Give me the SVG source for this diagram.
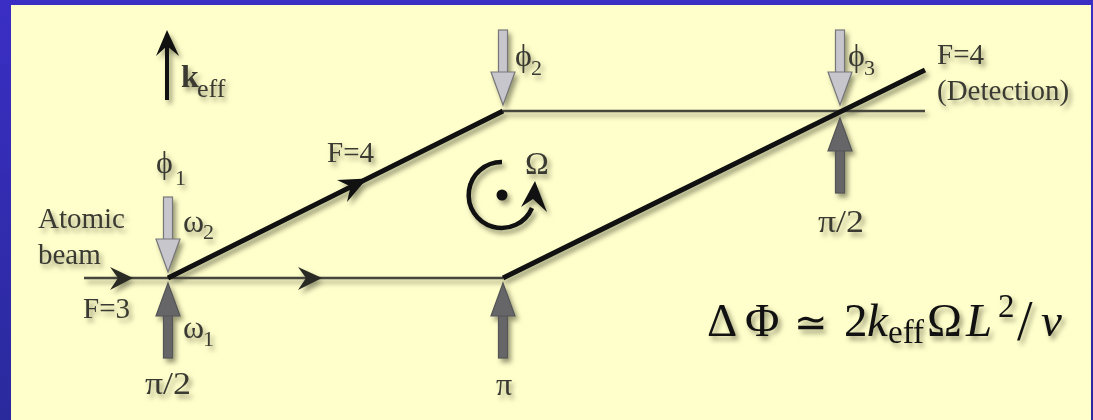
<svg xmlns="http://www.w3.org/2000/svg" width="1093" height="420" viewBox="0 0 1093 420">
<defs>
<linearGradient id="blue" x1="0" y1="0" x2="0" y2="1"><stop offset="0" stop-color="#3a2ec4"/><stop offset="1" stop-color="#2a2a9c"/></linearGradient>
<filter id="sh" x="-5%" y="-5%" width="110%" height="110%" color-interpolation-filters="sRGB">
<feGaussianBlur in="SourceGraphic" stdDeviation="0.5" result="soft"/>
<feDropShadow in="soft" dx="3" dy="4" stdDeviation="2.6" flood-color="#55553a" flood-opacity="0.6"/>
</filter>
<g id="down"><rect x="-4.5" y="-75" width="9" height="43" class="lf"/><polygon points="-12,-33 12,-33 0,0" class="lf"/></g>
<g id="up"><rect x="-4.5" y="32" width="9" height="43" class="df"/><polygon points="-12,33 12,33 0,0" class="df"/></g>
</defs>
<style>
text{font-family:"Liberation Serif","Times New Roman",serif;fill:#3a3a32;font-size:29px}
.gr{font-size:32px}
.sub{font-size:22px}
.eq{fill:#111;font-size:47px}
.eqs{fill:#111;font-size:33px}
.i{font-style:italic}
.lf{fill:#c6c6cc;stroke:#77777a;stroke-width:1.2}
.df{fill:#666668;stroke:#555557;stroke-width:1.2}
.thin{stroke:#46463e;stroke-width:2.6;fill:none}
.thick{stroke:#111;stroke-width:5;fill:none}
.hd{fill:#2a2a24}
.hk{fill:#111}
</style>
<rect width="1093" height="420" fill="url(#blue)"/>
<rect x="11" y="5" width="1080" height="415" fill="#ffffcc"/>
<g filter="url(#sh)">
<g id="connectors">
<path class="thin" d="M84 278H503"/>
<polygon class="hd" points="133,278 110,267 118,278 110,290"/>
<polygon class="hd" points="322,278 298,267 306,278 298,290"/>
<path class="thin" d="M503 111H925"/>
<path class="thick" d="M168 278L503 111"/>
<polygon class="hk" points="367,178.500 337,180 350.700,186.600 347,202"/>
<path class="thick" d="M503 278L925 70"/>
</g>
<g id="keff"><path d="M167 100V40" stroke="#111" stroke-width="4" fill="none"/><polygon class="hk" points="167,30 156,56 167,46 179,56"/>
<text x="181" y="87" font-weight="bold" style="font-size:32px">k</text><text x="197" y="97" style="font-size:26px">eff</text></g>
<g id="pulse-1-down"><use href="#down" x="168" y="272"/><text x="156" y="173" class="gr">ϕ</text><text x="175" y="185" class="sub">1</text><text x="183" y="232" class="gr">ω</text><text x="203" y="239" class="sub">2</text></g>
<g id="pulse-1-up"><use href="#up" x="168" y="283"/><text x="183" y="338" class="gr">ω</text><text x="203" y="346" class="sub">1</text><text x="145" y="394" class="gr" textLength="46" lengthAdjust="spacingAndGlyphs">π/2</text></g>
<g id="pulse-2-down"><use href="#down" x="503" y="105"/><text x="515" y="66" class="gr">ϕ</text><text x="531" y="75" class="sub">2</text></g>
<g id="pulse-2-up"><use href="#up" x="503" y="283"/><text x="504" y="395" text-anchor="middle" class="gr">π</text></g>
<g id="pulse-3-down"><use href="#down" x="840" y="105"/><text x="848" y="66" class="gr">ϕ</text><text x="864" y="75" class="sub">3</text></g>
<g id="pulse-3-up"><use href="#up" x="840" y="118"/><text x="818" y="232" class="gr" textLength="46" lengthAdjust="spacingAndGlyphs">π/2</text></g>
<g id="atomic-beam"><text x="38" y="228">Atomic</text><text x="38" y="264">beam</text><text x="83" y="318">F=3</text></g>
<g id="upper-path"><text x="327" y="162">F=4</text></g>
<g id="detection"><text x="937" y="64">F=4</text><text x="937" y="100">(Detection)</text></g>
<g id="rotation"><path d="M502 162A33 33 0 1 0 532 208" fill="none" stroke="#111" stroke-width="4.5"/><circle cx="502" cy="195" r="5.500" fill="#111"/><polygon class="hk" points="535,181 521,207 533,199 547,212"/><text x="525" y="174" class="gr">Ω</text></g>
<g id="formula"><text x="707" y="336" class="eq">Δ</text><text x="745" y="336" class="eq">Φ</text><text x="794" y="336" class="eq" style="font-family:'DejaVu Sans',sans-serif;font-weight:200;font-size:40px">≃</text><text x="844" y="336" class="eq">2</text><text x="867" y="336" class="eq i">k</text><text x="888" y="343" class="eqs">eff</text><text x="927" y="336" class="eq">Ω</text><text x="966" y="336" class="eq i">L</text><text x="998" y="317" class="eqs">2</text><text x="1017" y="340" class="eq" style="font-size:56px">/</text><text x="1041" y="336" class="eq i">v</text></g>
</g>
</svg>
